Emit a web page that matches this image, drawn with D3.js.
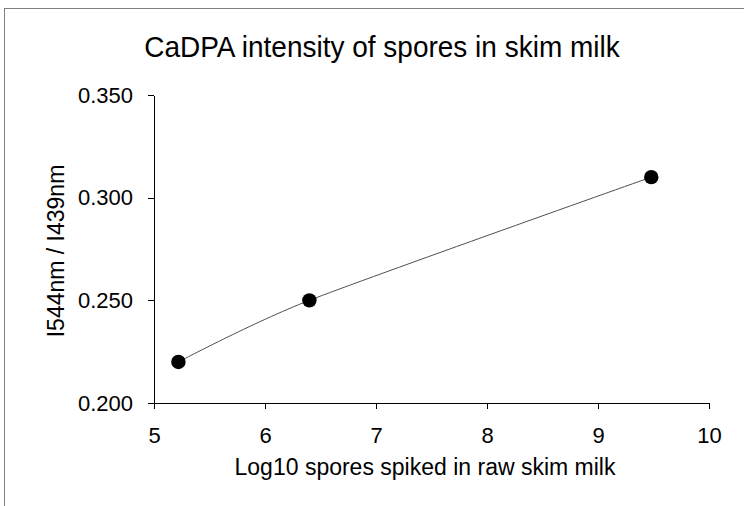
<!DOCTYPE html>
<html>
<head>
<meta charset="utf-8">
<script src="https://cdn.jsdelivr.net/npm/d3@7"></script>
<style>
  body { margin: 0; background: #fff; }
  svg text { font-family: "Liberation Sans", Arial, sans-serif; fill: #000; }
  .axis path, .axis line { stroke: #000; stroke-width: 1; shape-rendering: crispEdges; }
  .axis text { font-size: 22px; }
</style>
</head>
<body>
<div id="chart"></div>
<script>
// data
const logSpores = [5.22, 6.40, 9.48];
const ratio = [0.220, 0.250, 0.310];
const xTicks = [5, 6, 7, 8, 9, 10];
const yTicks = [0.200, 0.250, 0.300, 0.350];

const width = 744, height = 506;
const margin = { top: 95, right: 35, bottom: 103, left: 154 };
const innerW = width - margin.left - margin.right;
const innerH = height - margin.top - margin.bottom;

const svg = d3.select("#chart").append("svg")
    .attr("width", width)
    .attr("height", height);

// outer chart frame (right and bottom edges fall outside the picture)
svg.append("rect")
    .attr("x", 4.5).attr("y", 8.5)
    .attr("width", 760).attr("height", 520)
    .attr("fill", "none")
    .attr("stroke", "#808080");

const plot = svg.append("g")
    .attr("transform", `translate(${margin.left},${margin.top})`);

const x = d3.scaleLinear().domain([5, 10]).range([0, innerW]);
const y = d3.scaleLinear().domain([0.2, 0.35]).range([innerH, 0]);

plot.append("g")
    .attr("class", "axis")
    .attr("transform", `translate(0,${innerH})`)
    .call(d3.axisBottom(x).tickValues(xTicks).tickSize(6).tickSizeOuter(0).tickPadding(18).tickFormat(d3.format("d")));

plot.append("g")
    .attr("class", "axis")
    .call(d3.axisLeft(y).tickValues(yTicks).tickSize(6).tickSizeOuter(0).tickPadding(15).tickFormat(d3.format(".3f")));

// smoothed connecting line
const pts = logSpores.map((v, i) => [v, ratio[i]]);
const line = d3.line()
    .x(d => x(d[0]))
    .y(d => y(d[1]))
    .curve(d3.curveCardinal.tension(0.3));

plot.append("path")
    .datum(pts)
    .attr("d", line)
    .attr("fill", "none")
    .attr("stroke", "#505050")
    .attr("stroke-width", 1);

plot.selectAll("circle")
    .data(pts)
    .join("circle")
    .attr("cx", d => x(d[0]))
    .attr("cy", d => y(d[1]))
    .attr("r", 7.2)
    .attr("fill", "#000");

// title and axis labels
svg.append("text")
    .attr("transform", "translate(382,57) scale(1,1.07)")
    .attr("text-anchor", "middle")
    .attr("font-size", 28)
    .text("CaDPA intensity of spores in skim milk");

svg.append("text")
    .attr("x", 425).attr("y", 475)
    .attr("text-anchor", "middle")
    .attr("font-size", 23)
    .text("Log10 spores spiked in raw skim milk");

svg.append("text")
    .attr("transform", `translate(64,251) rotate(-90)`)
    .attr("text-anchor", "middle")
    .attr("font-size", 23)
    .text("I544nm / I439nm");
</script>
</body>
</html>
